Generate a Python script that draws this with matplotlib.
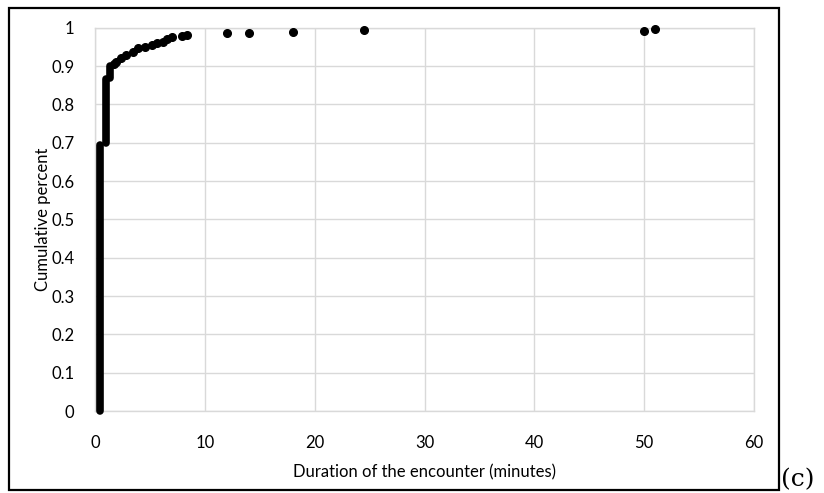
import matplotlib
matplotlib.use("Agg")
import matplotlib.pyplot as plt
from matplotlib.patches import Rectangle


OUTPUT_FILE = "out.png"

# dense stacks of points drawn by Excel as solid vertical bars
COLUMN_X = [0.42, 1.0, 1.4]
COLUMN_Y_LOW = [0.0, 0.70, 0.87]
COLUMN_Y_HIGH = [0.695, 0.865, 0.90]

# individual points of the cumulative curve
X_POINTS = [1.7, 1.95, 2.4, 2.85, 3.45, 3.95, 4.55, 5.15, 5.6, 6.2, 6.6,
            7.0, 7.9, 8.4, 12.0, 14.0, 18.0, 24.5, 50.0, 51.0]
Y_POINTS = [0.905, 0.911, 0.92, 0.929, 0.937, 0.946, 0.95, 0.955, 0.959,
            0.963, 0.97, 0.977, 0.978, 0.981, 0.985, 0.986, 0.989, 0.993,
            0.992, 0.996]

X_TICKS = [0, 10, 20, 30, 40, 50, 60]
Y_TICKS = [0, 0.1, 0.2, 0.3, 0.4, 0.5, 0.6, 0.7, 0.8, 0.9, 1]
Y_TICK_LABELS = ["0", "0.1", "0.2", "0.3", "0.4", "0.5", "0.6", "0.7",
                 "0.8", "0.9", "1"]

X_LABEL = "Duration of the encounter (minutes)"
Y_LABEL = "Cumulative percent"
PANEL_LABEL = "(c)"

GRID_COLOR = "#d9d9d9"


def make_plot():
    plt.rcParams["font.family"] = ["Lato", "DejaVu Sans"]

    fig = plt.figure(figsize=(8.24, 4.93), dpi=100)
    ax = fig.add_axes([95 / 824, 1 - 411 / 493, (754 - 95) / 824, (411 - 27.7) / 493])

    for x, lo, hi in zip(COLUMN_X, COLUMN_Y_LOW, COLUMN_Y_HIGH):
        ax.plot([x, x], [lo, hi], color="black", linewidth=5.5,
                solid_capstyle="round", clip_on=False, zorder=3)

    ax.plot(X_POINTS, Y_POINTS, linestyle="none", marker="o", markersize=5.5,
            color="black", clip_on=False, zorder=3)

    ax.set_xlim(0, 60)
    ax.set_ylim(0, 1)
    ax.set_xticks(X_TICKS)
    ax.set_yticks(Y_TICKS)
    ax.set_yticklabels(Y_TICK_LABELS)

    ax.grid(True, color=GRID_COLOR, linewidth=1)
    ax.set_axisbelow(True)
    for spine in ax.spines.values():
        spine.set_color(GRID_COLOR)
        spine.set_linewidth(1)

    ax.tick_params(length=0, labelsize=12, colors="black")
    ax.tick_params(axis="y", pad=15)
    ax.tick_params(axis="x", pad=17)

    ax.set_xlabel(X_LABEL, fontsize=12, labelpad=10)
    ax.set_ylabel(Y_LABEL, fontsize=12, labelpad=0)

    # outer frame around the whole chart
    fig.add_artist(Rectangle((9 / 824, 1 - 490 / 493), (779 - 9) / 824, (490 - 8) / 493,
                             transform=fig.transFigure, fill=False,
                             edgecolor="black", linewidth=1.6))

    fig.text(781 / 824, 0.004, PANEL_LABEL, fontsize=18, family="DejaVu Serif",
             ha="left", va="bottom")

    fig.savefig(OUTPUT_FILE, dpi=100)
    plt.close(fig)


if __name__ == "__main__":
    make_plot()
